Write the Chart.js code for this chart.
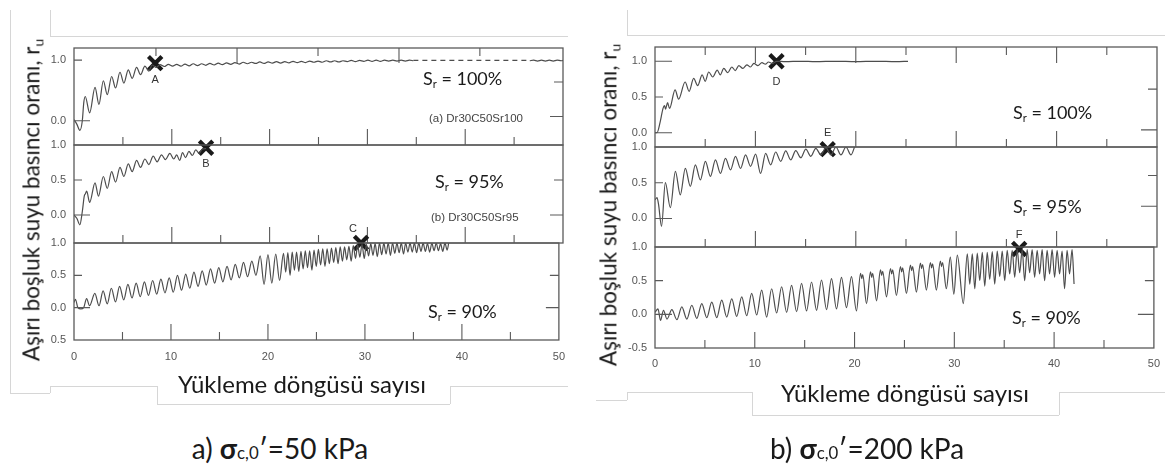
<!DOCTYPE html>
<html>
<head>
<meta charset="utf-8">
<script src="https://cdn.jsdelivr.net/npm/chart.js@4.4.1/dist/chart.umd.min.js"></script>
<style>
  body { margin: 0; width: 1169px; height: 466px; background: #fff; position: relative; overflow: hidden; font-family: Lato, "Open Sans", sans-serif; color: #1a1a1a; }
  canvas { position: absolute; }
  .ln { position: absolute; background: #d6d6d6; }
  .t { position: absolute; white-space: nowrap; line-height: 1; }
  .c { transform: translate(-50%, -50%); }
  .yt { font-size: 22.5px; transform: translate(-50%, -50%) rotate(-90deg); }
  .xt { font-size: 24px; }
  .sr { font-size: 18px; transform: translateY(-50%); }
  .sr sub, .yt sub { font-size: 0.62em; vertical-align: -0.3em; }
  .tag { font-family: "Liberation Sans", Arial, sans-serif; font-size: 11.5px; color: #444; transform: translateY(-50%); }
  .cap { font-size: 28px; }
  .cap .s { font-size: 0.6em; }
</style>
</head>
<body>
<!-- light frames left over from the pasted figure -->
<div class="ln" style="left:10px;top:10px;width:1px;height:383px"></div>
<div class="ln" style="left:50px;top:10px;width:1px;height:26px"></div>
<div class="ln" style="left:50px;top:36px;width:518px;height:1px"></div>
<div class="ln" style="left:10px;top:393px;width:40px;height:1px"></div>
<div class="ln" style="left:50px;top:386px;width:1px;height:7px"></div>
<div class="ln" style="left:50px;top:386px;width:107px;height:1px"></div>
<div class="ln" style="left:157px;top:386px;width:1px;height:18px"></div>
<div class="ln" style="left:157px;top:404px;width:293px;height:1px"></div>
<div class="ln" style="left:450px;top:386px;width:1px;height:18px"></div>
<div class="ln" style="left:450px;top:386px;width:118px;height:1px"></div>

<div class="ln" style="left:627px;top:10px;width:1px;height:25px"></div>
<div class="ln" style="left:627px;top:35px;width:538px;height:1px"></div>
<div class="ln" style="left:596px;top:400px;width:31px;height:1px"></div>
<div class="ln" style="left:627px;top:392px;width:1px;height:8px"></div>
<div class="ln" style="left:627px;top:392px;width:125px;height:1px"></div>
<div class="ln" style="left:752px;top:392px;width:1px;height:23px"></div>
<div class="ln" style="left:752px;top:415px;width:307px;height:1px"></div>
<div class="ln" style="left:1059px;top:392px;width:1px;height:23px"></div>
<div class="ln" style="left:1059px;top:392px;width:106px;height:1px"></div>

<canvas id="ls1"></canvas><canvas id="ls2"></canvas><canvas id="ls3"></canvas>
<canvas id="rs1"></canvas><canvas id="rs2"></canvas><canvas id="rs3"></canvas>

<div class="t yt" style="left:33px;top:200px">Aşırı boşluk suyu basıncı oranı, r<sub>u</sub></div>
<div class="t yt" style="left:610px;top:205px">Aşırı boşluk suyu basıncı oranı, r<sub>u</sub></div>
<div class="t xt c" style="left:302px;top:384px">Yükleme döngüsü sayısı</div>
<div class="t xt c" style="left:905px;top:393px">Yükleme döngüsü sayısı</div>

<div class="t sr" style="left:423px;top:79px">S<sub>r</sub> = 100%</div>
<div class="t sr" style="left:435px;top:182px">S<sub>r</sub> = 95%</div>
<div class="t sr" style="left:428px;top:312px">S<sub>r</sub> = 90%</div>
<div class="t sr" style="left:1013px;top:113px">S<sub>r</sub> = 100%</div>
<div class="t sr" style="left:1013px;top:207px">S<sub>r</sub> = 95%</div>
<div class="t sr" style="left:1012px;top:318px">S<sub>r</sub> = 90%</div>
<div class="t tag" style="left:429px;top:119px">(a) Dr30C50Sr100</div>
<div class="t tag" style="left:431px;top:218px">(b) Dr30C50Sr95</div>

<div class="t cap c" style="left:280px;top:448px">a) <b>σ</b><span class="s">c,0</span>′=50 kPa</div>
<div class="t cap c" style="left:867px;top:448px">b) <b>σ</b><span class="s">c,0</span>′=200 kPa</div>

<script>
// x axis: loading cycles
const X_LABELS = [0, 10, 20, 30, 40, 50];
const X_MAJOR = [10, 20, 30, 40];
const X_MINOR = [5, 15, 25, 35, 45];
// ticks of the old (0-30) axis still visible on top of panel (a)
const OLD_TOP_MAJOR = [16.67, 33.23];
const OLD_TOP_MINOR = [8.38, 24.95, 41.5];

// pore pressure ratio r_u vs cycles, sigma'c,0 = 50 kPa
const ru50Sr100 = [[0,0.02],[0.3,-0.06],[0.6,-0.16],[0.85,0.0],[1.0,0.3],[1.15,0.40],[1.6,0.13],[2.15,0.55],[2.55,0.27],[3.0,0.66],[3.4,0.43],[3.85,0.73],[4.25,0.54],[4.7,0.80],[5.1,0.62],[5.55,0.84],[5.95,0.70],[6.4,0.88],[6.8,0.76],[7.25,0.90],[7.65,0.82],[8.0,0.92],[8.4,0.88],[8.8,0.925],[9.23,0.895],[9.65,0.93],[10.08,0.90],[10.5,0.93],[10.93,0.90],[11.35,0.935],[11.78,0.905],[12.2,0.94],[12.63,0.91],[13.05,0.94],[13.48,0.915],[13.9,0.945],[14.33,0.92],[14.75,0.95],[15.18,0.925],[15.6,0.955],[16.03,0.93],[16.45,0.96],[16.88,0.935],[17.3,0.965],[17.73,0.94],[18.15,0.965],[18.58,0.945],[19.0,0.97],[19.43,0.945],[19.85,0.97],[20.28,0.95],[20.7,0.975],[21.13,0.95],[21.55,0.975],[21.98,0.955],[22.4,0.98],[22.83,0.96],[23.25,0.98],[23.68,0.96],[24.1,0.985],[24.53,0.965],[24.95,0.985],[25.38,0.965],[25.8,0.99],[26.23,0.97],[26.65,0.99],[27.08,0.97],[27.5,0.99],[27.93,0.975],[28.35,0.995],[28.78,0.975],[29.2,0.995],[29.63,0.98],[30.05,1.0],[30.48,0.98],[30.9,1.0],[31.33,0.98],[31.75,1.0],[32.18,0.985],[32.6,1.0],[33.03,0.985],[33.45,1.0],[33.88,0.985],[34.3,1.0],[34.7,0.99]];
const ru50Sr100Gap = [[34.7,0.995],[46.6,0.995]];
const ru50Sr100End = [[46.6,0.99],[47.0,1.0],[47.4,0.985],[47.8,1.0],[48.2,0.985],[48.6,1.0],[49.0,0.985],[49.4,1.0],[49.8,0.99],[50,0.995]];
const ru50Sr95 = [[0,0.0],[0.3,-0.05],[0.6,-0.14],[0.85,0.05],[1.05,0.27],[1.15,0.30],[1.3,0.34],[1.6,0.18],[2.15,0.46],[2.5,0.27],[3.0,0.55],[3.4,0.38],[3.85,0.62],[4.25,0.47],[4.7,0.68],[5.1,0.55],[5.55,0.73],[5.95,0.62],[6.4,0.78],[6.8,0.68],[7.25,0.80],[7.65,0.72],[8.1,0.84],[8.5,0.76],[8.95,0.86],[9.35,0.79],[9.8,0.88],[10.2,0.80],[10.5,0.86],[10.8,0.78],[11.1,0.89],[11.4,0.82],[11.75,0.91],[12.1,0.85],[12.45,0.93],[12.8,0.88],[13.1,0.94],[13.5,0.95]];
const ru50Sr90 = [[0,0.08],[0.15,0.13],[0.4,0.0],[0.7,-0.02],[1.0,0.0],[1.3,0.14],[1.6,0.03],[2.15,0.22],[2.58,0.03],[3.0,0.26],[3.43,0.06],[3.85,0.30],[4.28,0.09],[4.7,0.33],[5.13,0.12],[5.56,0.36],[5.98,0.15],[6.41,0.38],[6.83,0.17],[7.26,0.40],[7.68,0.19],[8.11,0.42],[8.53,0.21],[8.96,0.44],[9.38,0.23],[9.82,0.46],[10.24,0.24],[10.67,0.50],[11.09,0.27],[11.52,0.52],[11.94,0.30],[12.37,0.55],[12.79,0.33],[13.22,0.57],[13.64,0.35],[14.08,0.60],[14.5,0.38],[14.93,0.62],[15.35,0.40],[15.78,0.64],[16.2,0.43],[16.63,0.67],[17.05,0.46],[17.48,0.70],[17.9,0.48],[18.34,0.72],[18.76,0.50],[19.2,0.80],[19.6,0.36],[20.0,0.82],[20.4,0.38],[20.8,0.83],[21.2,0.42],[21.6,0.84],[21.83,0.55],[22.05,0.85],[22.28,0.50],[22.5,0.86],[22.73,0.58],[22.95,0.86],[23.18,0.56],[23.4,0.87],[23.63,0.60],[23.85,0.88],[24.08,0.62],[24.3,0.88],[24.53,0.58],[24.75,0.89],[24.98,0.64],[25.2,0.90],[25.43,0.66],[25.65,0.91],[25.88,0.64],[26.1,0.91],[26.33,0.68],[26.55,0.92],[26.78,0.70],[27.0,0.93],[27.23,0.68],[27.45,0.94],[27.68,0.72],[27.9,0.94],[28.13,0.74],[28.35,0.95],[28.58,0.72],[28.8,0.96],[29.03,0.76],[29.25,0.97],[29.48,0.78],[29.7,0.98],[29.93,0.76],[30.15,0.98],[30.38,0.80],[30.6,0.99],[30.83,0.81],[31.05,0.99],[31.28,0.79],[31.5,1.0],[31.73,0.82],[31.95,1.0],[32.18,0.83],[32.4,1.0],[32.63,0.81],[32.85,1.0],[33.08,0.84],[33.3,1.0],[33.53,0.85],[33.75,1.0],[33.98,0.83],[34.2,1.0],[34.43,0.86],[34.65,1.0],[34.88,0.86],[35.1,1.0],[35.33,0.85],[35.55,1.0],[35.78,0.87],[36.0,1.0],[36.23,0.87],[36.45,0.99],[36.68,0.86],[36.9,1.0],[37.13,0.88],[37.35,1.0],[37.58,0.88],[37.8,0.99],[38.03,0.87],[38.25,1.0],[38.48,0.89],[38.65,1.01]];

// sigma'c,0 = 200 kPa
const ru200Sr100 = [[0,0.0],[0.2,0.0],[0.5,0.14],[0.8,0.34],[0.95,0.38],[1.05,0.33],[1.25,0.42],[1.45,0.34],[2.0,0.60],[2.35,0.47],[3.0,0.71],[3.4,0.58],[3.85,0.76],[4.25,0.66],[4.7,0.81],[5.0,0.72],[5.35,0.85],[5.75,0.78],[6.2,0.875],[6.5,0.81],[6.85,0.90],[7.25,0.84],[7.65,0.92],[8.0,0.87],[8.35,0.94],[8.75,0.90],[9.15,0.95],[9.5,0.92],[9.85,0.97],[10.25,0.94],[10.65,0.98],[11.0,0.96],[11.3,0.99],[11.7,0.97],[12.1,1.0],[13.0,0.995],[14.5,1.0],[16.0,0.995],[18.0,1.0],[20.0,0.995],[22.0,1.0],[24.0,0.995],[25.2,1.0]];
const ru200Sr95 = [[0,0.26],[0.2,0.29],[0.35,0.2],[0.65,-0.11],[1.03,0.50],[1.53,0.15],[2.03,0.66],[2.52,0.33],[3.02,0.70],[3.52,0.45],[4.02,0.75],[4.52,0.54],[5.02,0.80],[5.52,0.59],[6.02,0.82],[6.52,0.63],[7.02,0.84],[7.52,0.68],[8.02,0.87],[8.52,0.70],[9.02,0.89],[9.52,0.73],[10.02,0.90],[10.52,0.63],[11.02,0.91],[11.52,0.75],[12.02,0.93],[12.52,0.80],[13.02,0.945],[13.52,0.82],[14.02,0.95],[14.52,0.85],[15.02,0.97],[15.52,0.87],[16.02,0.98],[16.52,0.89],[17.02,0.99],[17.52,0.89],[18.02,1.0],[18.52,0.89],[19.02,1.0],[19.52,0.89],[19.95,1.03]];
const ru200Sr90 = [[0,0.03],[0.3,0.08],[0.55,-0.09],[0.85,0.06],[1.2,-0.07],[1.69,0.07],[2.19,-0.08],[2.69,0.11],[3.19,-0.07],[3.69,0.135],[4.19,-0.06],[4.69,0.16],[5.19,-0.05],[5.69,0.18],[6.19,-0.05],[6.69,0.21],[7.19,-0.04],[7.69,0.23],[8.19,-0.03],[8.69,0.26],[9.19,-0.02],[9.69,0.31],[10.19,-0.01],[10.69,0.36],[11.19,-0.04],[11.69,0.38],[12.19,0.02],[12.69,0.41],[13.19,0.03],[13.69,0.43],[14.19,0.04],[14.69,0.46],[15.19,0.05],[15.69,0.48],[16.19,0.06],[16.69,0.51],[17.19,0.07],[17.69,0.53],[18.19,0.08],[18.69,0.55],[19.19,0.10],[19.69,0.56],[20.19,0.05],[20.6,0.61],[20.72,0.53],[20.82,0.59],[21.2,0.16],[21.6,0.63],[21.72,0.55],[21.82,0.61],[22.2,0.20],[22.6,0.66],[22.72,0.58],[22.82,0.64],[23.2,0.26],[23.6,0.68],[23.72,0.60],[23.82,0.66],[24.2,0.28],[24.6,0.71],[24.72,0.63],[24.82,0.69],[25.2,0.31],[25.6,0.73],[25.72,0.65],[25.82,0.71],[26.2,0.33],[26.6,0.76],[26.72,0.68],[26.82,0.74],[27.2,0.36],[27.6,0.77],[27.72,0.69],[27.82,0.75],[28.2,0.36],[28.6,0.79],[28.72,0.71],[28.82,0.77],[29.2,0.38],[29.6,0.85],[29.95,0.30],[30.3,0.88],[30.9,0.16],[31.3,0.90],[31.55,0.45],[31.8,0.90],[32.05,0.38],[32.3,0.91],[32.55,0.50],[32.8,0.92],[33.05,0.42],[33.3,0.92],[33.55,0.52],[33.8,0.93],[34.05,0.45],[34.3,0.94],[34.55,0.56],[34.8,0.94],[35.05,0.50],[35.3,0.95],[35.55,0.60],[35.8,0.95],[36.05,0.55],[36.3,0.96],[36.55,0.62],[36.8,0.96],[37.05,0.50],[37.3,0.96],[37.55,0.62],[37.8,0.96],[38.05,0.55],[38.3,0.95],[38.55,0.60],[38.8,0.96],[39.05,0.50],[39.3,0.95],[39.55,0.60],[39.8,0.96],[40.05,0.55],[40.3,0.95],[40.55,0.60],[40.8,0.94],[41.05,0.38],[41.3,0.95],[41.55,0.60],[41.8,0.96],[42.0,0.45]];

// liquefaction points A-F
const markA = {x: 8.3, y: 0.95, text: 'A'};
const markB = {x: 13.5, y: 0.96, text: 'B'};
const markC = {x: 29.6, y: 1.0, text: 'C'};
const markD = {x: 12.1, y: 1.0, text: 'D'};
const markE = {x: 17.2, y: 0.97, text: 'E'};
const markF = {x: 36.5, y: 0.97, text: 'F'};

Chart.defaults.font.family = '"Liberation Sans", Arial, sans-serif';

// room above/below each plot box inside its canvas
const PAD_TOP = 22;
const PAD_BOTTOM = 18;

const inTicks = (major, minor, big, small) => [...major.map(v => [v, big]), ...minor.map(v => [v, small])];

// frame, inward tick marks, y tick labels and the letter next to each X
const frame = {
    id: 'frame',
    afterDatasetsDraw(chart, args, o) {
        const { ctx, chartArea: a, scales: { x, y } } = chart;
        ctx.save();
        ctx.strokeStyle = '#5a5a5a';
        ctx.lineWidth = 1.3;
        ctx.strokeRect(a.left, a.top, a.right - a.left, a.bottom - a.top);
        ctx.lineWidth = 1.1;
        ctx.beginPath();
        (o.top || []).forEach(([v, len]) => { const p = x.getPixelForValue(v); ctx.moveTo(p, a.top); ctx.lineTo(p, a.top + len); });
        (o.bottom || []).forEach(([v, len]) => { const p = x.getPixelForValue(v); ctx.moveTo(p, a.bottom); ctx.lineTo(p, a.bottom - len); });
        (o.left || []).forEach(([v, len]) => { const p = y.getPixelForValue(v); ctx.moveTo(a.left, p); ctx.lineTo(a.left + len, p); });
        (o.right || []).forEach(([v, len]) => { const p = y.getPixelForValue(v); ctx.moveTo(a.right, p); ctx.lineTo(a.right - len, p); });
        ctx.stroke();

        ctx.font = '11px "Liberation Sans", Arial, sans-serif';
        ctx.fillStyle = '#555';
        ctx.textAlign = 'right';
        ctx.textBaseline = 'middle';
        o.yTicks.forEach((v, i) => ctx.fillText(o.yText[i], a.left - 8, y.getPixelForValue(v)));

        ctx.fillStyle = '#333';
        ctx.textAlign = 'center';
        ctx.fillText(o.mark.text, x.getPixelForValue(o.mark.x) + o.dx, y.getPixelForValue(o.mark.y) + o.dy);
        ctx.restore();
    }
};

function subplot(id, box, o) {
    const cv = document.getElementById(id);
    const padB = o.xAxis ? 8 : PAD_BOTTOM;
    const below = o.xAxis ? 24 + padB : padB;
    cv.width = box.r - box.l + 46;
    cv.height = box.b - box.t + PAD_TOP + below;
    cv.style.left = (box.l - 34) + 'px';
    cv.style.top = (box.t - PAD_TOP) + 'px';

    const datasets = o.curves.map(c => ({
        data: c.pts.map(([x, y]) => ({ x, y })),
        borderColor: '#4d4d4d',
        borderWidth: 1.2,
        borderDash: c.dash || [],
        pointRadius: 0,
        cubicInterpolationMode: 'monotone'
    }));
    datasets.push({
        data: [{ x: o.mark.x, y: o.mark.y }],
        showLine: false,
        clip: false,
        pointStyle: 'crossRot',
        pointRadius: 9.5,
        pointBorderWidth: 4.2,
        pointBorderColor: '#1a1a1a'
    });

    const xScale = {
        type: 'linear', min: 0, max: 50, display: !!o.xAxis,
        afterBuildTicks: s => { s.ticks = X_LABELS.map(v => ({ value: v })); },
        grid: { display: false, drawTicks: false },
        border: { display: false },
        ticks: { padding: o.xPad || 9, color: '#555', font: { size: 11 }, maxRotation: 0, autoSkip: false }
    };
    if (o.xAxis) xScale.afterFit = s => { s.height = 24; };

    new Chart(cv, {
        type: 'line',
        data: { datasets },
        options: {
            responsive: false,
            animation: false,
            events: [],
            layout: { autoPadding: false, padding: { top: PAD_TOP, bottom: padB, left: 0, right: 12 } },
            plugins: {
                legend: { display: false },
                tooltip: { enabled: false },
                frame: { ...o.ticks, yTicks: o.yTicks, yText: o.yText, mark: o.mark, dx: o.dx || 0, dy: o.dy || 0 }
            },
            scales: {
                x: xScale,
                y: {
                    min: o.yMin, max: o.yMax,
                    afterFit: s => { s.width = 34; },
                    grid: { display: false, drawTicks: false },
                    border: { display: false },
                    ticks: { display: false }
                }
            }
        },
        plugins: [frame]
    });
}

const bottomTicks = inTicks(X_MAJOR, X_MINOR, 16, 8);

// a) 50 kPa
subplot('ls1', { l: 74, r: 563, t: 48, b: 145 }, {
    curves: [{ pts: ru50Sr100 }, { pts: ru50Sr100Gap, dash: [5, 4] }, { pts: ru50Sr100End }],
    yMin: -0.4, yMax: 1.2, yTicks: [1, 0], yText: ['1.0', '0.0'],
    ticks: { top: inTicks(OLD_TOP_MAJOR, OLD_TOP_MINOR, 15, 8), bottom: bottomTicks, left: [[1, 8], [0, 16]], right: [[0.64, 9], [0.07, 13]] },
    mark: markA, dy: 17
});
subplot('ls2', { l: 74, r: 563, t: 145, b: 243 }, {
    curves: [{ pts: ru50Sr95 }],
    yMin: -0.4, yMax: 1.0, yTicks: [1, 0.5, 0], yText: ['1.0', '0.5', '0.0'],
    ticks: { bottom: bottomTicks, left: [[0.5, 8], [0, 16]], right: [[0.5, 9], [0, 13]] },
    mark: markB, dy: 16
});
subplot('ls3', { l: 74, r: 563, t: 243, b: 340 }, {
    curves: [{ pts: ru50Sr90 }],
    yMin: -0.5, yMax: 1.0, yTicks: [1, 0.5, 0, -0.5], yText: ['1.0', '0.5', '0.0', '0.5'],
    ticks: { bottom: bottomTicks, left: [[0.5, 8], [0, 16]], right: [[0.5, 9], [0, 13]] },
    mark: markC, dx: -8, dy: -14, xAxis: true, xPad: 10
});

// b) 200 kPa
subplot('rs1', { l: 655, r: 1157, t: 47, b: 147 }, {
    curves: [{ pts: ru200Sr100 }],
    yMin: -0.2, yMax: 1.2, yTicks: [1, 0.5, 0], yText: ['1.0', '0.5', '0.0'],
    ticks: { top: bottomTicks, bottom: bottomTicks, left: [[1, 17], [0.5, 8], [0, 17]], right: [[0.61, 9], [0.04, 16]] },
    mark: markD, dy: 21
});
subplot('rs2', { l: 655, r: 1157, t: 147, b: 247 }, {
    curves: [{ pts: ru200Sr95 }],
    yMin: -0.4, yMax: 1.0, yTicks: [1, 0.5, 0], yText: ['1.0', '0.5', '0.0'],
    ticks: { bottom: bottomTicks, left: [[0.5, 8], [0, 17]], right: [[0.6, 9], [0.17, 16]] },
    mark: markE, dy: -16
});
subplot('rs3', { l: 655, r: 1157, t: 247, b: 348 }, {
    curves: [{ pts: ru200Sr90 }],
    yMin: -0.5, yMax: 1.0, yTicks: [1, 0.5, 0, -0.5], yText: ['1.0', '0.5', '0.0', '-0.5'],
    ticks: { bottom: bottomTicks, left: [[0.5, 8], [0, 17]], right: [[0.5, 9], [0, 16]] },
    mark: markF, dy: -14, xAxis: true
});
</script>
</body>
</html>
